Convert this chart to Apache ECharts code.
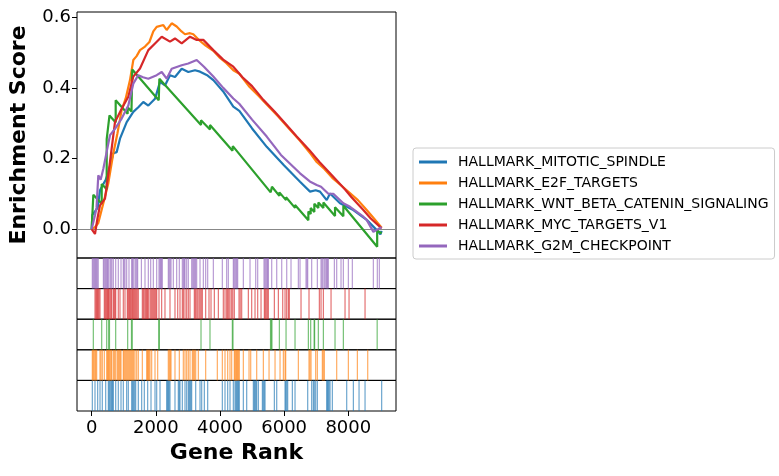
<!DOCTYPE html>
<html>
<head>
<meta charset="utf-8">
<script src="https://cdn.jsdelivr.net/npm/echarts@6/dist/echarts.min.js"></script>
<style>
  html, body { margin: 0; padding: 0; background: #fff; }
  #chart { width: 779px; height: 476px; }
</style>
</head>
<body>
<div id="chart"></div>
<script>
// gene set names, in legend order
const setNames = [
  'HALLMARK_MITOTIC_SPINDLE',
  'HALLMARK_E2F_TARGETS',
  'HALLMARK_WNT_BETA_CATENIN_SIGNALING',
  'HALLMARK_MYC_TARGETS_V1',
  'HALLMARK_G2M_CHECKPOINT'
]
const setColors = ['#1f77b4', '#ff7f0e', '#2ca02c', '#d62728', '#9467bd']

const yTicks = [0, 0.2, 0.4, 0.6]
const xTicks = [0, 2000, 4000, 6000, 8000]

// running enrichment score, [gene rank, score]
const spindleCurve = [[0, 0], [20, 0.04], [103, 0.05], [186, 0.06], [259, 0.11], [436, 0.14], [519, 0.16], [675, 0.215], [779, 0.218], [882, 0.256], [1091, 0.303], [1297, 0.332], [1454, 0.345], [1609, 0.36], [1765, 0.35], [1974, 0.369], [2130, 0.417], [2286, 0.407], [2441, 0.436], [2597, 0.431], [2806, 0.454], [3012, 0.445], [3221, 0.45], [3377, 0.446], [3616, 0.435], [3792, 0.422], [4100, 0.39], [4415, 0.347], [4603, 0.335], [5000, 0.285], [5457, 0.233], [6000, 0.18], [6495, 0.134], [6807, 0.106], [6983, 0.11], [7118, 0.106], [7327, 0.082], [7430, 0.101], [7742, 0.073], [8157, 0.054], [8574, 0.026], [8886, -0.003], [9000, -0.015], [9040, -0.005]]
const e2fCurve = [[0, 0], [100, 0.005], [206, 0.017], [363, 0.073], [519, 0.13], [675, 0.215], [800, 0.27], [934, 0.337], [1060, 0.37], [1194, 0.422], [1298, 0.479], [1400, 0.49], [1506, 0.507], [1662, 0.517], [1800, 0.53], [1921, 0.56], [2026, 0.573], [2233, 0.578], [2338, 0.564], [2494, 0.583], [2650, 0.574], [2800, 0.56], [2909, 0.552], [3065, 0.555], [3168, 0.552], [3377, 0.533], [3553, 0.52], [3792, 0.505], [4000, 0.485], [4200, 0.47], [4415, 0.45], [4603, 0.44], [4900, 0.405], [5200, 0.378], [5457, 0.353], [5800, 0.32], [6100, 0.29], [6495, 0.25], [6838, 0.212], [7015, 0.19], [7254, 0.17], [7500, 0.145], [7951, 0.11], [8300, 0.082], [8574, 0.054], [8800, 0.03], [9040, 0.004]]
const wntCurve = [[0, 0], [51, 0], [51, 0.097], [312, 0.072], [312, 0.128], [468, 0.113], [468, 0.255], [530, 0.25], [555, 0.322], [748, 0.302], [748, 0.365], [1122, 0.327], [1122, 0.345], [1240, 0.333], [1265, 0.452], [2090, 0.365], [2110, 0.426], [3408, 0.295], [3408, 0.308], [3688, 0.282], [3688, 0.295], [4390, 0.222], [4400, 0.235], [5580, 0.104], [5620, 0.12], [5851, 0.094], [5851, 0.104], [6059, 0.082], [6059, 0.09], [6339, 0.06], [6339, 0.068], [6755, 0.025], [6755, 0.05], [6827, 0.043], [6827, 0.06], [6941, 0.048], [6941, 0.072], [7066, 0.06], [7066, 0.075], [7223, 0.06], [7223, 0.075], [7586, 0.037], [7586, 0.062], [7846, 0.036], [7846, 0.066], [8900, -0.05], [8900, -0.005], [9040, -0.012]]
const mycCurve = [[0, 0], [103, -0.014], [180, 0.03], [259, 0.067], [415, 0.086], [570, 0.19], [726, 0.303], [934, 0.341], [985, 0.337], [1142, 0.375], [1297, 0.432], [1506, 0.455], [1765, 0.507], [1974, 0.526], [2183, 0.545], [2441, 0.531], [2597, 0.54], [2806, 0.526], [3065, 0.545], [3274, 0.536], [3480, 0.536], [3792, 0.507], [4100, 0.48], [4415, 0.46], [4700, 0.43], [5000, 0.405], [5351, 0.366], [5700, 0.333], [6028, 0.3], [6392, 0.262], [6775, 0.225], [7100, 0.19], [7430, 0.158], [7900, 0.112], [8100, 0.09], [8469, 0.054], [8700, 0.03], [9040, 0.002]]
const g2mCurve = [[0, 0], [50, 0.005], [103, 0.039], [150, 0.06], [206, 0.152], [280, 0.14], [363, 0.171], [470, 0.22], [570, 0.266], [726, 0.284], [934, 0.313], [1142, 0.35], [1297, 0.412], [1453, 0.436], [1600, 0.43], [1765, 0.426], [2026, 0.436], [2183, 0.445], [2338, 0.426], [2494, 0.454], [2806, 0.464], [3012, 0.469], [3274, 0.479], [3500, 0.46], [3792, 0.432], [4100, 0.4], [4415, 0.37], [4600, 0.355], [5000, 0.31], [5457, 0.262], [5900, 0.21], [6495, 0.158], [6800, 0.135], [7015, 0.125], [7150, 0.12], [7378, 0.1], [7533, 0.1], [7845, 0.073], [8054, 0.063], [8469, 0.035], [8574, 0.026], [8782, -0.008], [8968, 0.002], [9040, 0.005]]

// gene ranks of set members (rug strips)
const spindleHits = [20, 103, 186, 259, 331, 436, 519, 545, 570, 600, 625, 650, 675, 748, 830, 914, 986, 1090, 1142, 1246, 1275, 1305, 1340, 1371, 1454, 1558, 1641, 1745, 1849, 1974, 2026, 2130, 2337, 2365, 2390, 2415, 2441, 2597, 2701, 2730, 2753, 2826, 2909, 2961, 3013, 3040, 3065, 3090, 3117, 3242, 3377, 3429, 3512, 3616, 4073, 4156, 4239, 4312, 4416, 4468, 4495, 4520, 4550, 4575, 4603, 4728, 4832, 5040, 5070, 5095, 5120, 5144, 5196, 5321, 5350, 5380, 5404, 5695, 5768, 6028, 6048, 6080, 6110, 6256, 6339, 6734, 6858, 6910, 6940, 6983, 7035, 7326, 7350, 7375, 7400, 7430, 7503, 7950, 8158, 8335, 8522, 9040]
const e2fHits = [20, 45, 70, 100, 125, 155, 259, 290, 331, 394, 467, 495, 520, 545, 570, 600, 623, 675, 710, 748, 799, 830, 860, 890, 914, 986, 1010, 1040, 1070, 1100, 1130, 1160, 1190, 1220, 1250, 1280, 1310, 1350, 1403, 1454, 1579, 1715, 1740, 1765, 1790, 1818, 1870, 1974, 2057, 2389, 2420, 2450, 2473, 2597, 2732, 2857, 2909, 2961, 3013, 3065, 3138, 3170, 3205, 3242, 3325, 3553, 3917, 4073, 4156, 4239, 4312, 4364, 4447, 4470, 4495, 4520, 4545, 4575, 4603, 4728, 4905, 4957, 5144, 5352, 5529, 5716, 5872, 5976, 6028, 6048, 6443, 6775, 6805, 6838, 6983, 7035, 7191, 7220, 7254, 7638, 8002, 8283, 8605]
const wntHits = [51, 312, 468, 530, 555, 748, 1122, 1240, 1265, 2090, 2110, 3408, 3688, 4385, 4405, 5575, 5600, 5620, 5851, 6059, 6339, 6755, 6827, 6935, 6950, 7066, 7223, 7586, 7846, 8900]
const mycHits = [103, 130, 155, 180, 205, 230, 259, 394, 420, 445, 470, 495, 520, 540, 571, 600, 623, 675, 700, 725, 748, 830, 882, 986, 1038, 1111, 1135, 1160, 1185, 1210, 1246, 1270, 1300, 1330, 1360, 1390, 1420, 1454, 1579, 1610, 1640, 1680, 1710, 1740, 1766, 1818, 1850, 1880, 1910, 1940, 1970, 2000, 2026, 2098, 2181, 2285, 2441, 2597, 2681, 2753, 2826, 2860, 2909, 2961, 3013, 3065, 3200, 3230, 3260, 3304, 3346, 3380, 3415, 3450, 3553, 3657, 3720, 3824, 3949, 4104, 4156, 4208, 4240, 4275, 4312, 4364, 4400, 4447, 4593, 4630, 4676, 4884, 4988, 5092, 5175, 5279, 5383, 5410, 5440, 5475, 5508, 5695, 5820, 5955, 6028, 6079, 6132, 6162, 6526, 6775, 7098, 7150, 7223, 7462, 7898, 8023, 8522]
const g2mHits = [20, 45, 70, 95, 120, 150, 175, 205, 365, 390, 420, 445, 470, 495, 520, 570, 600, 630, 675, 748, 830, 914, 986, 1010, 1038, 1090, 1163, 1246, 1270, 1298, 1350, 1380, 1410, 1433, 1550, 1662, 1766, 1839, 1922, 2026, 2098, 2125, 2150, 2175, 2202, 2389, 2415, 2445, 2473, 2545, 2649, 2732, 2826, 2860, 2890, 2909, 2961, 3013, 3117, 3150, 3180, 3210, 3240, 3273, 3377, 3481, 3553, 3616, 3793, 4073, 4208, 4260, 4416, 4440, 4470, 4500, 4525, 4551, 4728, 4936, 5113, 5175, 5372, 5400, 5430, 5460, 5485, 5508, 5612, 5768, 5924, 6080, 6214, 6443, 6495, 6682, 6710, 6734, 6858, 7035, 7150, 7180, 7210, 7254, 7296, 7325, 7350, 7378, 7566, 7638, 7773, 7846, 8002, 8126, 8781, 8905, 8968]

const curves = [spindleCurve, e2fCurve, wntCurve, mycCurve, g2mCurve]
const hits = [spindleHits, e2fHits, wntHits, mycHits, g2mHits]

const FONT = 'DejaVu Sans'
const X_MIN = -458
const X_MAX = 9487

// layout: main plot then 5 rug strips (top: G2M ... bottom: spindle)
const plotLeft = 77
const plotWidth = 319
const mainTop = 12
const mainHeight = 246
const rugHeight = 30.6

let grids = [{ left: plotLeft, top: mainTop, width: plotWidth, height: mainHeight, show: true, borderColor: '#000', borderWidth: 1, backgroundColor: '#fff' }]
let xAxes = [{
  type: 'value', gridIndex: 0, min: X_MIN, max: X_MAX,
  axisLine: { show: false }, axisTick: { show: false }, axisLabel: { show: false }, splitLine: { show: false }
}]
let yAxes = [{
  type: 'value', gridIndex: 0, min: -0.082, max: 0.615,
  name: 'Enrichment Score', nameLocation: 'middle', nameGap: 47,
  nameTextStyle: { fontFamily: FONT, fontWeight: 'bold', fontSize: 22, color: '#000' },
  axisLine: { show: false, onZero: false },
  axisTick: { show: true, inside: false, length: 5, customValues: yTicks, lineStyle: { color: '#000' } },
  axisLabel: { customValues: yTicks, margin: 6, fontFamily: FONT, fontSize: 18, color: '#000', formatter: v => v.toFixed(1) },
  splitLine: { show: false }
}]

for (let r = 0; r < 5; r++) {
  const last = r === 4
  grids.push({ left: plotLeft, top: mainTop + mainHeight + r * rugHeight, width: plotWidth, height: rugHeight, show: true, borderColor: '#000', borderWidth: 1 })
  xAxes.push({
    type: 'value', gridIndex: r + 1, min: X_MIN, max: X_MAX,
    name: last ? 'Gene Rank' : '', nameLocation: 'middle', nameGap: 31,
    nameTextStyle: { fontFamily: FONT, fontWeight: 'bold', fontSize: 22, color: '#000' },
    axisLine: { show: false, onZero: false },
    axisTick: { show: last, inside: false, length: 5, customValues: xTicks, lineStyle: { color: '#000' } },
    axisLabel: { show: last, customValues: xTicks, margin: 8, fontFamily: FONT, fontSize: 18, color: '#000', formatter: v => String(v) },
    splitLine: { show: false }
  })
  yAxes.push({ type: 'value', gridIndex: r + 1, min: 0, max: 1, show: false })
}

let series = []
curves.forEach((c, i) => {
  series.push({
    name: setNames[i],
    type: 'line',
    xAxisIndex: 0,
    yAxisIndex: 0,
    data: c,
    symbol: 'none',
    z: 3 + i,
    lineStyle: { color: setColors[i], width: 2.2 },
    itemStyle: { color: setColors[i] },
    markLine: i === 0 ? {
      silent: true, symbol: 'none', label: { show: false },
      lineStyle: { color: '#888', width: 1, type: 'solid' },
      data: [{ yAxis: 0 }], z: 2
    } : undefined
  })
})

hits.forEach((h, i) => {
  const gridIdx = 5 - i // spindle at the bottom
  const color = setColors[i]
  series.push({
    type: 'custom',
    xAxisIndex: gridIdx,
    yAxisIndex: gridIdx,
    data: h.map(v => [v, 0]),
    encode: { x: 0, y: 1 },
    renderItem: function (params, api) {
      const x = api.coord([api.value(0), 0])[0]
      const cs = params.coordSys
      return {
        type: 'line',
        shape: { x1: x, y1: cs.y, x2: x, y2: cs.y + cs.height },
        style: { stroke: color, lineWidth: 1.2, opacity: 0.65 }
      }
    }
  })
})

const chart = echarts.init(document.getElementById('chart'), null, { renderer: 'canvas' })
chart.setOption({
  animation: false,
  backgroundColor: '#fff',
  grid: grids,
  xAxis: xAxes,
  yAxis: yAxes,
  legend: {
    data: setNames,
    orient: 'vertical',
    left: 413,
    top: 148,
    padding: [7, 6, 6, 6],
    itemGap: 7,
    icon: 'rect',
    itemWidth: 28,
    itemHeight: 3,
    borderColor: '#cccccc',
    borderWidth: 1,
    borderRadius: 3,
    textStyle: { fontFamily: FONT, fontSize: 14, color: '#000', lineHeight: 14, padding: [0, 0, 0, 6] }
  },
  series: series
})
</script>
</body>
</html>
